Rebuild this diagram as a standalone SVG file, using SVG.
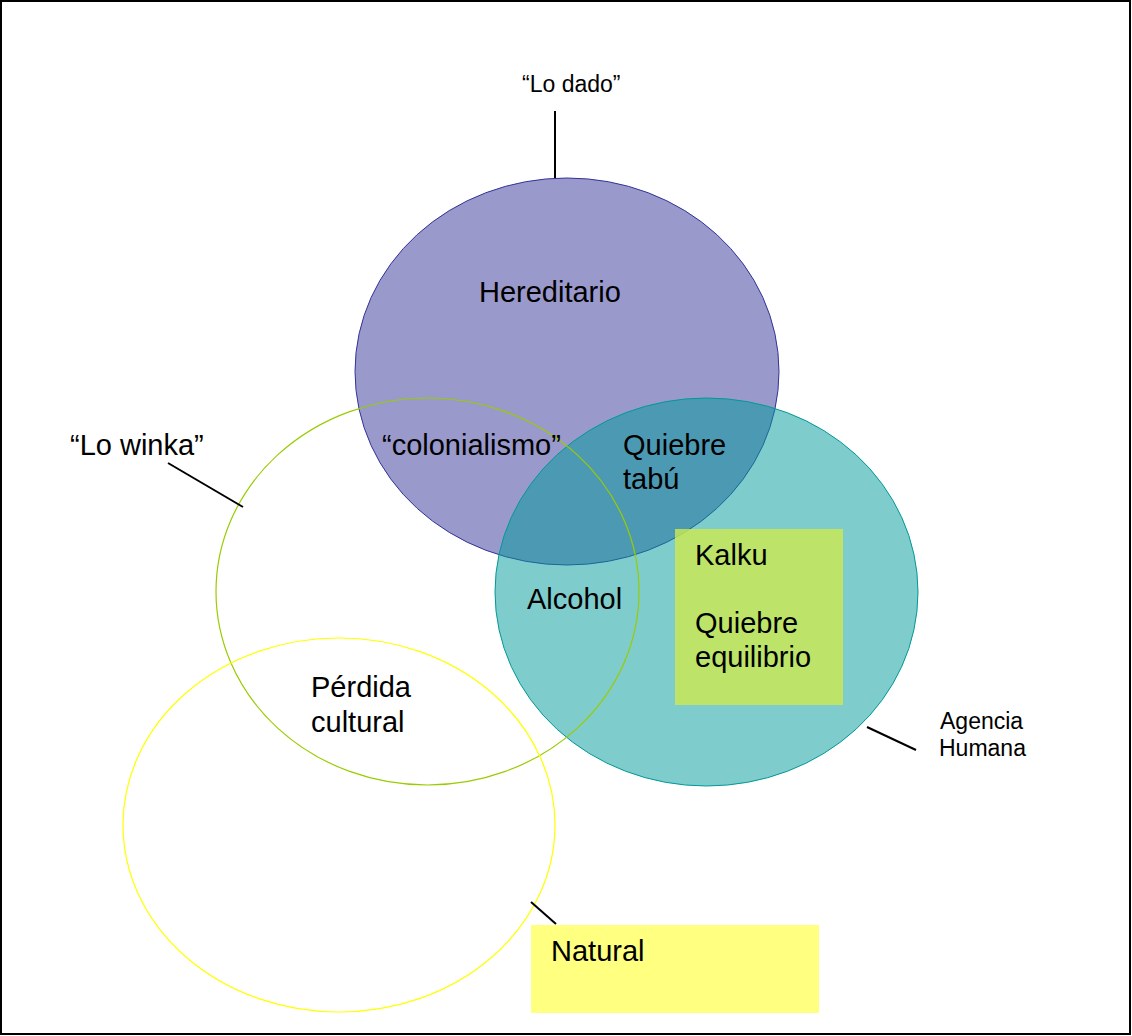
<svg xmlns="http://www.w3.org/2000/svg" width="1132" height="1036" viewBox="0 0 1132 1036">
  <style>
    text { font-family: "Liberation Sans", Arial, sans-serif; fill: #000; }
    .big { font-size: 29px; }
    .small { font-size: 23px; }
    .lead { stroke: #000; stroke-width: 2; fill: none; }
  </style>
  <!-- page frame -->
  <rect x="1" y="1" width="1129" height="1033" fill="#fff" stroke="#000" stroke-width="2"/>

  <!-- Hereditario / "Lo dado" -->
  <g id="hereditario">
    <ellipse cx="567" cy="371.5" rx="212" ry="193.5" fill="#9999CC" stroke="#333399" stroke-width="1"/>
    <text class="big" x="479" y="302">Hereditario</text>
  </g>

  <!-- Agencia humana -->
  <g id="agencia">
    <ellipse cx="706.5" cy="592" rx="211.5" ry="194" fill="#009999" fill-opacity="0.5" stroke="#009999" stroke-width="1"/>
  </g>

  <!-- "Lo winka" -->
  <g id="winka">
    <ellipse cx="427.5" cy="591.5" rx="211.5" ry="193.5" fill="none" stroke="#99CC00" stroke-width="1.2"/>
  </g>

  <!-- Natural -->
  <g id="natural">
    <ellipse cx="339" cy="825" rx="216" ry="187" fill="none" stroke="#FFFF00" stroke-width="1.2"/>
  </g>

  <!-- Kalku box -->
  <g id="kalku">
    <rect x="675" y="529" width="168" height="176" fill="#CDEA4F" fill-opacity="0.8"/>
    <text class="big" x="695" y="565">Kalku</text>
    <text class="big" x="695" y="633">Quiebre</text>
    <text class="big" x="695" y="667">equilibrio</text>
  </g>

  <!-- Natural label box -->
  <g id="natural-label">
    <rect x="531" y="925" width="288" height="88" fill="#FFFF80"/>
    <text class="big" x="551" y="961">Natural</text>
  </g>

  <!-- region labels -->
  <g id="labels">
    <text class="big" x="382" y="455">“colonialismo”</text>
    <text class="big" x="623" y="455">Quiebre</text>
    <text class="big" x="623" y="489">tabú</text>
    <text class="big" x="527" y="609">Alcohol</text>
    <text class="big" x="311" y="697">Pérdida</text>
    <text class="big" x="311" y="732">cultural</text>
    <text class="big" x="70" y="455">“Lo winka”</text>
    <text class="small" x="522" y="92">“Lo dado”</text>
    <text class="small" x="940" y="729">Agencia</text>
    <text class="small" x="939" y="756">Humana</text>
  </g>

  <!-- leader lines -->
  <g id="connectors">
    <line class="lead" x1="555" y1="111" x2="555" y2="178"/>
    <line class="lead" x1="168" y1="463" x2="243" y2="507"/>
    <line class="lead" x1="867" y1="727" x2="916" y2="750"/>
    <line class="lead" x1="531" y1="902" x2="556" y2="924"/>
  </g>
</svg>
